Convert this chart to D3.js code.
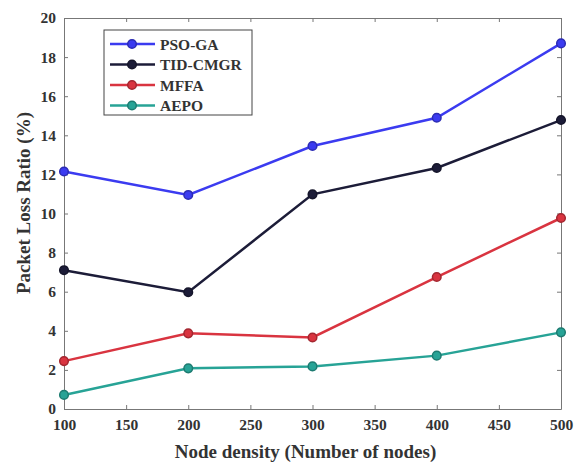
<!DOCTYPE html>
<meta charset="utf-8">
<style>
body { margin: 0; background: #fff; }
text { font-family: "Liberation Serif", "Times New Roman", serif; font-weight: bold; fill: #333; }
.line { fill: none; stroke-width: 2.5px; }
</style>
<body>
<script src="https://d3js.org/d3.v7.min.js"></script>
<script>

// data
var nodes = [100, 200, 300, 400, 500];
var psoGA   = [12.15, 10.95, 13.45, 14.9, 18.7];
var tidCMGR = [7.1, 5.97, 10.98, 12.33, 14.78];
var mffa    = [2.45, 3.87, 3.66, 6.75, 9.77];
var aepo    = [0.72, 2.08, 2.18, 2.73, 3.92];
var xTicks = [100, 150, 200, 250, 300, 350, 400, 450, 500];
var yTicks = [0, 2, 4, 6, 8, 10, 12, 14, 16, 18, 20];

var series = [
  {name: "PSO-GA",   values: psoGA,   color: "#3b3bf0"},
  {name: "TID-CMGR", values: tidCMGR, color: "#1c1c38"},
  {name: "MFFA",     values: mffa,    color: "#d93440"},
  {name: "AEPO",     values: aepo,    color: "#27a396"}
];

var margin = {top: 18, right: 21, bottom: 56, left: 64},
    width = 582 - margin.left - margin.right,
    height = 465 - margin.top - margin.bottom;

var svg = d3.select("body").append("svg")
    .attr("width", 582)
    .attr("height", 465)
  .append("g")
    .attr("transform", "translate(" + margin.left + "," + margin.top + ")");

var x = d3.scaleLinear().domain([100, 500]).range([0, width]);
var y = d3.scaleLinear().domain([0, 20]).range([height, 0]);

// axes with inward ticks
var axisCol = "#777";
svg.append("g")
    .attr("transform", "translate(0," + height + ")")
    .call(d3.axisBottom(x).tickValues(xTicks).tickSizeInner(-4).tickSizeOuter(0).tickPadding(10))
    .call(function(g) {
      g.select(".domain").attr("stroke", axisCol);
      g.selectAll(".tick line").attr("stroke", axisCol);
      g.selectAll("text").attr("font-size", 15.5).attr("fill", "#333");
    });
svg.append("g")
    .call(d3.axisTop(x).tickValues(xTicks).tickSizeInner(-4).tickSizeOuter(0).tickFormat(""))
    .call(function(g) {
      g.select(".domain").attr("stroke", axisCol);
      g.selectAll(".tick line").attr("stroke", axisCol);
    });
svg.append("g")
    .call(d3.axisLeft(y).tickValues(yTicks).tickSizeInner(-4).tickSizeOuter(0).tickPadding(8))
    .call(function(g) {
      g.select(".domain").attr("stroke", axisCol);
      g.selectAll(".tick line").attr("stroke", axisCol);
      g.selectAll("text").attr("font-size", 15.5).attr("fill", "#333");
    });
svg.append("g")
    .attr("transform", "translate(" + width + ",0)")
    .call(d3.axisRight(y).tickValues(yTicks).tickSizeInner(-4).tickSizeOuter(0).tickFormat(""))
    .call(function(g) {
      g.select(".domain").attr("stroke", axisCol);
      g.selectAll(".tick line").attr("stroke", axisCol);
    });

// axis labels
svg.append("text")
    .attr("x", width / 2 - 7)
    .attr("y", height + 49)
    .style("text-anchor", "middle")
    .attr("font-size", 19)
    .text("Node density (Number of nodes)");
svg.append("text")
    .attr("transform", "rotate(-90)")
    .attr("x", -185)
    .attr("y", -34)
    .style("text-anchor", "middle")
    .attr("font-size", 19)
    .text("Packet Loss Ratio (%)");

// lines and markers
var line = d3.line()
    .x(function(d, i) { return x(nodes[i]); })
    .y(function(d) { return y(d); });

series.forEach(function(s) {
  svg.append("path")
      .datum(s.values)
      .attr("class", "line")
      .attr("stroke", s.color)
      .attr("d", line);
  svg.selectAll(null)
      .data(s.values)
    .enter().append("circle")
      .attr("cx", function(d, i) { return x(nodes[i]); })
      .attr("cy", function(d) { return y(d); })
      .attr("r", 4.3)
      .attr("fill", s.color)
      .attr("stroke", d3.color(s.color).darker(0.8))
      .attr("stroke-width", 1.5);
});

// legend
var lg = svg.append("g").attr("transform", "translate(40,12)");
lg.append("rect")
    .attr("width", 148)
    .attr("height", 85)
    .attr("fill", "#fff")
    .attr("stroke", "#444")
    .attr("stroke-width", 1);
series.forEach(function(s, i) {
  var ly = 14 + i * 20.5;
  lg.append("line")
      .attr("x1", 6).attr("x2", 51)
      .attr("y1", ly).attr("y2", ly)
      .attr("stroke", s.color)
      .attr("stroke-width", 2.5);
  lg.append("circle")
      .attr("cx", 28).attr("cy", ly).attr("r", 4.3)
      .attr("fill", s.color)
      .attr("stroke", d3.color(s.color).darker(0.8))
      .attr("stroke-width", 1.5);
  lg.append("text")
      .attr("x", 56)
      .attr("y", ly + 5.5)
      .attr("font-size", 15.5)
      .text(s.name);
});

</script>
</body>
